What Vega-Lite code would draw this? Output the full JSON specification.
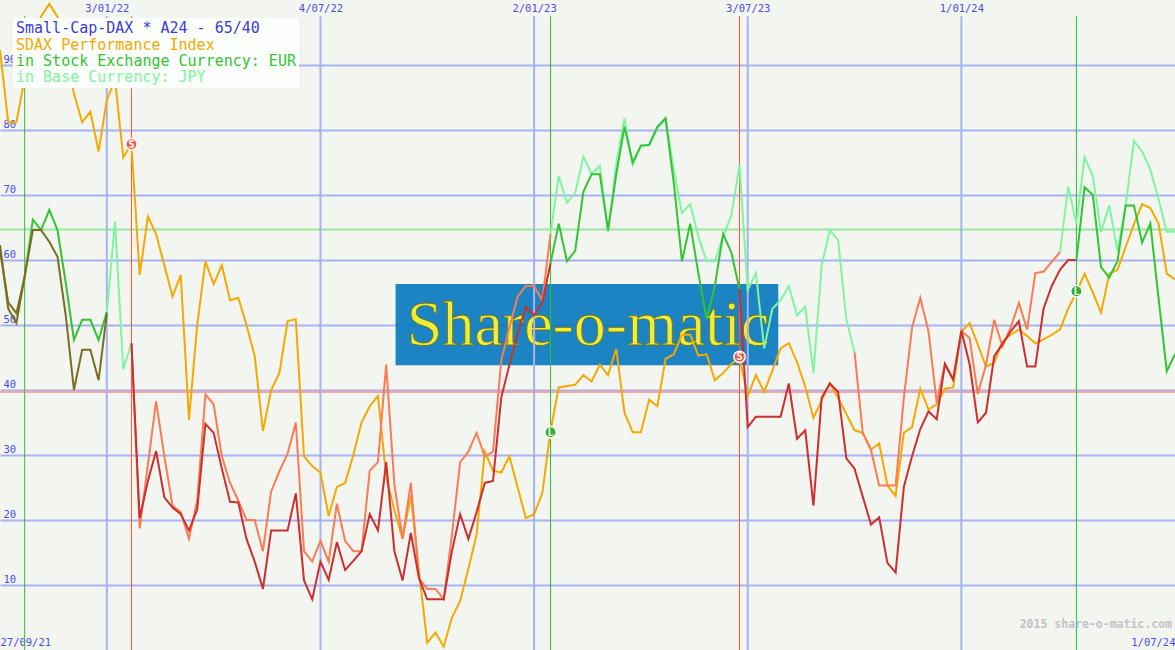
{
  "$schema": "https://vega.github.io/schema/vega-lite/v6.json",
  "width": 1175,
  "height": 650,
  "padding": 0,
  "autosize": {"type": "none"},
  "background": "#f3f5f1",
  "config": {"view": {"stroke": null}, "font": "DejaVu Sans Mono"},
  "datasets": {
    "watermark": [{"start": "2022-09-06", "end": "2023-07-29", "top": 56.3, "bottom": 43.8, "mid": "2023-02-17", "baseline": 46.9, "text": "Share-o-matic"}],
    "thresholds": [{"level": 64.7, "kind": "buy level 65"}, {"level": 39.7, "kind": "sell level 40"}],
    "quarters": [{"date": "2022-01-03"}, {"date": "2022-07-04"}, {"date": "2023-01-02"}, {"date": "2023-07-03"}, {"date": "2024-01-01"}],
    "signal_lines": [{"date": "2021-10-25", "signal": "buy"}, {"date": "2022-01-24", "signal": "sell"}, {"date": "2023-01-16", "signal": "buy"}, {"date": "2023-06-26", "signal": "sell"}, {"date": "2024-04-08", "signal": "buy"}],
    "signal_points": [{"date": "2022-01-24", "value": 77.8, "signal": "sell", "label": "S"}, {"date": "2023-01-16", "value": 33.5, "signal": "buy", "label": "L"}, {"date": "2023-06-26", "value": 45.1, "signal": "sell", "label": "S"}, {"date": "2024-04-08", "value": 55.2, "signal": "buy", "label": "L"}],
    "credit": [{"date": "2024-07-01", "value": 3.85, "text": "2015 share-o-matic.com"}],
    "legend": [{"label": "SDAX Performance Index"}, {"label": "in Stock Exchange Currency: EUR"}, {"label": "in Base Currency: JPY"}],
    "sdax": [
      {"date":"2021-10-04","value":92.3},{"date":"2021-10-11","value":81.2},{"date":"2021-10-18","value":81.2},{"date":"2021-10-25","value":87.9},{"date":"2021-11-01","value":93.5},{"date":"2021-11-08","value":97.5},{"date":"2021-11-15","value":99.4},{"date":"2021-11-22","value":97.4},{"date":"2021-11-29","value":91.5},{"date":"2021-12-06","value":85.6},{"date":"2021-12-13","value":81.2},{"date":"2021-12-20","value":82.8},{"date":"2021-12-27","value":76.7},
      {"date":"2022-01-03","value":84.6},{"date":"2022-01-10","value":87.7},{"date":"2022-01-17","value":75.8},{"date":"2022-01-24","value":77.8},{"date":"2022-01-31","value":57.7},{"date":"2022-02-07","value":66.7},{"date":"2022-02-14","value":64},{"date":"2022-02-21","value":59.2},{"date":"2022-02-28","value":54.4},{"date":"2022-03-07","value":57.7},{"date":"2022-03-14","value":35.4},{"date":"2022-03-21","value":50},{"date":"2022-03-28","value":59.8},
      {"date":"2022-04-04","value":56.3},{"date":"2022-04-11","value":59.2},{"date":"2022-04-18","value":53.8},{"date":"2022-04-25","value":54.2},{"date":"2022-05-02","value":50},{"date":"2022-05-09","value":45.2},{"date":"2022-05-16","value":33.7},{"date":"2022-05-23","value":40},{"date":"2022-05-30","value":42.6},{"date":"2022-06-06","value":50.6},{"date":"2022-06-13","value":50.9},{"date":"2022-06-20","value":29.8},{"date":"2022-06-27","value":28.3},
      {"date":"2022-07-04","value":27.3},{"date":"2022-07-11","value":20.6},{"date":"2022-07-18","value":25.1},{"date":"2022-07-25","value":25.7},{"date":"2022-08-01","value":30},{"date":"2022-08-08","value":35},{"date":"2022-08-15","value":37.5},{"date":"2022-08-22","value":39.1},{"date":"2022-08-29","value":26.7},{"date":"2022-09-05","value":21.5},{"date":"2022-09-12","value":17.1},{"date":"2022-09-19","value":23.8},{"date":"2022-09-26","value":12},
      {"date":"2022-10-03","value":1.1},{"date":"2022-10-10","value":2.7},{"date":"2022-10-17","value":0.5},{"date":"2022-10-24","value":5},{"date":"2022-10-31","value":7.5},{"date":"2022-11-07","value":12.5},{"date":"2022-11-14","value":17.7},{"date":"2022-11-21","value":30.5},{"date":"2022-11-28","value":27.6},{"date":"2022-12-05","value":27.3},{"date":"2022-12-12","value":29.8},{"date":"2022-12-19","value":25},{"date":"2022-12-26","value":20.3},
      {"date":"2023-01-02","value":20.9},{"date":"2023-01-09","value":24.1},{"date":"2023-01-16","value":33.7},{"date":"2023-01-23","value":40.4},{"date":"2023-01-30","value":40.6},{"date":"2023-02-06","value":40.8},{"date":"2023-02-13","value":42.3},{"date":"2023-02-20","value":41.3},{"date":"2023-02-27","value":43.9},{"date":"2023-03-06","value":42.3},{"date":"2023-03-13","value":46.3},{"date":"2023-03-20","value":36.5},{"date":"2023-03-27","value":33.5},
      {"date":"2023-04-03","value":33.5},{"date":"2023-04-10","value":38.5},{"date":"2023-04-17","value":37.5},{"date":"2023-04-24","value":44.8},{"date":"2023-05-01","value":45.5},{"date":"2023-05-08","value":48.5},{"date":"2023-05-15","value":48.5},{"date":"2023-05-22","value":45.3},{"date":"2023-05-29","value":45.5},{"date":"2023-06-05","value":41.5},{"date":"2023-06-12","value":42.6},{"date":"2023-06-19","value":44},{"date":"2023-06-26","value":45},
      {"date":"2023-07-03","value":39.1},{"date":"2023-07-10","value":42.3},{"date":"2023-07-17","value":39.7},{"date":"2023-07-24","value":43},{"date":"2023-07-31","value":46.4},{"date":"2023-08-07","value":47.2},{"date":"2023-08-14","value":44.3},{"date":"2023-08-21","value":40.5},{"date":"2023-08-28","value":35.7},{"date":"2023-09-04","value":38.4},{"date":"2023-09-11","value":41},{"date":"2023-09-18","value":38.8},{"date":"2023-09-25","value":36.3},
      {"date":"2023-10-02","value":33.8},{"date":"2023-10-09","value":33.4},{"date":"2023-10-16","value":30.8},{"date":"2023-10-23","value":31.8},{"date":"2023-10-30","value":25.3},{"date":"2023-11-06","value":23.7},{"date":"2023-11-13","value":33.4},{"date":"2023-11-20","value":34.3},{"date":"2023-11-27","value":40.2},{"date":"2023-12-04","value":37},{"date":"2023-12-11","value":37.8},{"date":"2023-12-18","value":40.2},{"date":"2023-12-25","value":40.4},
      {"date":"2024-01-01","value":49},{"date":"2024-01-08","value":50.3},{"date":"2024-01-15","value":47},{"date":"2024-01-22","value":43.6},{"date":"2024-01-29","value":44.2},{"date":"2024-02-05","value":47.4},{"date":"2024-02-12","value":48.5},{"date":"2024-02-19","value":49.3},{"date":"2024-02-26","value":48.3},{"date":"2024-03-04","value":47.2},{"date":"2024-03-11","value":47.8},{"date":"2024-03-18","value":48.5},{"date":"2024-03-25","value":49.3},
      {"date":"2024-04-01","value":52.5},{"date":"2024-04-08","value":55},{"date":"2024-04-15","value":57.9},{"date":"2024-04-22","value":55},{"date":"2024-04-29","value":51.9},{"date":"2024-05-06","value":57.9},{"date":"2024-05-13","value":58.5},{"date":"2024-05-20","value":62},{"date":"2024-05-27","value":65.5},{"date":"2024-06-03","value":68.6},{"date":"2024-06-10","value":68},{"date":"2024-06-17","value":65.6},{"date":"2024-06-24","value":57.9},{"date":"2024-07-01","value":57}
    ],
    "eur": [
      {"date":"2021-10-04","value":62.3,"segment":1,"status":"pre"},{"date":"2021-10-11","value":52.5,"segment":1,"status":"pre"},{"date":"2021-10-18","value":50.3,"segment":1,"status":"pre"},{"date":"2021-10-25","value":57.5,"segment":1,"status":"pre"},{"date":"2021-11-01","value":64.6,"segment":1,"status":"pre"},{"date":"2021-11-08","value":64.6,"segment":1,"status":"pre"},{"date":"2021-11-15","value":62.8,"segment":1,"status":"pre"},{"date":"2021-11-22","value":60.5,"segment":1,"status":"pre"},{"date":"2021-11-29","value":51.5,"segment":1,"status":"pre"},{"date":"2021-12-06","value":40,"segment":1,"status":"pre"},{"date":"2021-12-13","value":46.2,"segment":1,"status":"pre"},{"date":"2021-12-20","value":46.2,"segment":1,"status":"pre"},{"date":"2021-12-27","value":41.5,"segment":1,"status":"pre"},{"date":"2022-01-03","value":51.8,"segment":1,"status":"pre"},
      {"date":"2022-01-24","value":47.2,"segment":2,"status":"sell"},{"date":"2022-01-31","value":20.3,"segment":2,"status":"sell"},{"date":"2022-02-07","value":26,"segment":2,"status":"sell"},{"date":"2022-02-14","value":30.6,"segment":2,"status":"sell"},{"date":"2022-02-21","value":23.5,"segment":2,"status":"sell"},{"date":"2022-02-28","value":21.9,"segment":2,"status":"sell"},{"date":"2022-03-07","value":20.9,"segment":2,"status":"sell"},{"date":"2022-03-14","value":18.4,"segment":2,"status":"sell"},{"date":"2022-03-21","value":21.6,"segment":2,"status":"sell"},{"date":"2022-03-28","value":34.8,"segment":2,"status":"sell"},
      {"date":"2022-04-04","value":33.4,"segment":2,"status":"sell"},{"date":"2022-04-11","value":27.9,"segment":2,"status":"sell"},{"date":"2022-04-18","value":22.8,"segment":2,"status":"sell"},{"date":"2022-04-25","value":22.7,"segment":2,"status":"sell"},{"date":"2022-05-02","value":17.1,"segment":2,"status":"sell"},{"date":"2022-05-09","value":13.6,"segment":2,"status":"sell"},{"date":"2022-05-16","value":9.4,"segment":2,"status":"sell"},{"date":"2022-05-23","value":18.4,"segment":2,"status":"sell"},{"date":"2022-05-30","value":18.4,"segment":2,"status":"sell"},{"date":"2022-06-06","value":18.4,"segment":2,"status":"sell"},{"date":"2022-06-13","value":24.1,"segment":2,"status":"sell"},{"date":"2022-06-20","value":10.7,"segment":2,"status":"sell"},{"date":"2022-06-27","value":7.8,"segment":2,"status":"sell"},
      {"date":"2022-07-04","value":13.6,"segment":2,"status":"sell"},{"date":"2022-07-11","value":10.8,"segment":2,"status":"sell"},{"date":"2022-07-18","value":16.6,"segment":2,"status":"sell"},{"date":"2022-07-25","value":12.3,"segment":2,"status":"sell"},{"date":"2022-08-01","value":13.7,"segment":2,"status":"sell"},{"date":"2022-08-08","value":15.2,"segment":2,"status":"sell"},{"date":"2022-08-15","value":20.9,"segment":2,"status":"sell"},{"date":"2022-08-22","value":18.4,"segment":2,"status":"sell"},{"date":"2022-08-29","value":28.9,"segment":2,"status":"sell"},{"date":"2022-09-05","value":15.2,"segment":2,"status":"sell"},{"date":"2022-09-12","value":10.7,"segment":2,"status":"sell"},{"date":"2022-09-19","value":18,"segment":2,"status":"sell"},{"date":"2022-09-26","value":11,"segment":2,"status":"sell"},
      {"date":"2022-10-03","value":7.8,"segment":2,"status":"sell"},{"date":"2022-10-10","value":7.8,"segment":2,"status":"sell"},{"date":"2022-10-17","value":7.8,"segment":2,"status":"sell"},{"date":"2022-10-24","value":15.2,"segment":2,"status":"sell"},{"date":"2022-10-31","value":20.9,"segment":2,"status":"sell"},{"date":"2022-11-07","value":17.1,"segment":2,"status":"sell"},{"date":"2022-11-14","value":21.2,"segment":2,"status":"sell"},{"date":"2022-11-21","value":25.7,"segment":2,"status":"sell"},{"date":"2022-11-28","value":26,"segment":2,"status":"sell"},{"date":"2022-12-05","value":38.8,"segment":2,"status":"sell"},{"date":"2022-12-12","value":43.9,"segment":2,"status":"sell"},{"date":"2022-12-19","value":48.7,"segment":2,"status":"sell"},{"date":"2022-12-26","value":52.8,"segment":2,"status":"sell"},
      {"date":"2023-01-02","value":51.5,"segment":2,"status":"sell"},{"date":"2023-01-09","value":53.4,"segment":2,"status":"sell"},{"date":"2023-01-16","value":59.5,"segment":2,"status":"sell"},
      {"date":"2023-01-16","value":59.5,"segment":3,"status":"buy"},{"date":"2023-01-23","value":65.6,"segment":3,"status":"buy"},{"date":"2023-01-30","value":59.8,"segment":3,"status":"buy"},{"date":"2023-02-06","value":61.4,"segment":3,"status":"buy"},{"date":"2023-02-13","value":70.5,"segment":3,"status":"buy"},{"date":"2023-02-20","value":73.2,"segment":3,"status":"buy"},{"date":"2023-02-27","value":73.2,"segment":3,"status":"buy"},{"date":"2023-03-06","value":64.6,"segment":3,"status":"buy"},{"date":"2023-03-13","value":73.2,"segment":3,"status":"buy"},{"date":"2023-03-20","value":80.5,"segment":3,"status":"buy"},{"date":"2023-03-27","value":75,"segment":3,"status":"buy"},
      {"date":"2023-04-03","value":77.6,"segment":3,"status":"buy"},{"date":"2023-04-10","value":77.7,"segment":3,"status":"buy"},{"date":"2023-04-17","value":80.5,"segment":3,"status":"buy"},{"date":"2023-04-24","value":81.8,"segment":3,"status":"buy"},{"date":"2023-05-01","value":71.9,"segment":3,"status":"buy"},{"date":"2023-05-08","value":59.8,"segment":3,"status":"buy"},{"date":"2023-05-15","value":65.6,"segment":3,"status":"buy"},{"date":"2023-05-22","value":57.9,"segment":3,"status":"buy"},{"date":"2023-05-29","value":50.9,"segment":3,"status":"buy"},{"date":"2023-06-05","value":56,"segment":3,"status":"buy"},{"date":"2023-06-12","value":64,"segment":3,"status":"buy"},{"date":"2023-06-19","value":61.2,"segment":3,"status":"buy"},{"date":"2023-06-26","value":55.5,"segment":3,"status":"buy"},
      {"date":"2023-06-26","value":55.5,"segment":4,"status":"sell"},{"date":"2023-07-03","value":34.3,"segment":4,"status":"sell"},{"date":"2023-07-10","value":35.9,"segment":4,"status":"sell"},{"date":"2023-07-17","value":35.9,"segment":4,"status":"sell"},{"date":"2023-07-24","value":35.9,"segment":4,"status":"sell"},{"date":"2023-07-31","value":35.9,"segment":4,"status":"sell"},{"date":"2023-08-07","value":41,"segment":4,"status":"sell"},{"date":"2023-08-14","value":32.5,"segment":4,"status":"sell"},{"date":"2023-08-21","value":33.8,"segment":4,"status":"sell"},{"date":"2023-08-28","value":22.2,"segment":4,"status":"sell"},{"date":"2023-09-04","value":38.8,"segment":4,"status":"sell"},{"date":"2023-09-11","value":41,"segment":4,"status":"sell"},{"date":"2023-09-18","value":39.7,"segment":4,"status":"sell"},{"date":"2023-09-25","value":29.5,"segment":4,"status":"sell"},
      {"date":"2023-10-02","value":27.9,"segment":4,"status":"sell"},{"date":"2023-10-09","value":23.6,"segment":4,"status":"sell"},{"date":"2023-10-16","value":19.3,"segment":4,"status":"sell"},{"date":"2023-10-23","value":20.4,"segment":4,"status":"sell"},{"date":"2023-10-30","value":13.4,"segment":4,"status":"sell"},{"date":"2023-11-06","value":11.9,"segment":4,"status":"sell"},{"date":"2023-11-13","value":25.1,"segment":4,"status":"sell"},{"date":"2023-11-20","value":29.8,"segment":4,"status":"sell"},{"date":"2023-11-27","value":34,"segment":4,"status":"sell"},{"date":"2023-12-04","value":36.7,"segment":4,"status":"sell"},{"date":"2023-12-11","value":35.5,"segment":4,"status":"sell"},{"date":"2023-12-18","value":44,"segment":4,"status":"sell"},{"date":"2023-12-25","value":41.6,"segment":4,"status":"sell"},
      {"date":"2024-01-01","value":49.1,"segment":4,"status":"sell"},{"date":"2024-01-08","value":44,"segment":4,"status":"sell"},{"date":"2024-01-15","value":35,"segment":4,"status":"sell"},{"date":"2024-01-22","value":36.5,"segment":4,"status":"sell"},{"date":"2024-01-29","value":45.2,"segment":4,"status":"sell"},{"date":"2024-02-05","value":47.1,"segment":4,"status":"sell"},{"date":"2024-02-12","value":49,"segment":4,"status":"sell"},{"date":"2024-02-19","value":50.6,"segment":4,"status":"sell"},{"date":"2024-02-26","value":43.6,"segment":4,"status":"sell"},{"date":"2024-03-04","value":43.6,"segment":4,"status":"sell"},{"date":"2024-03-11","value":52.5,"segment":4,"status":"sell"},{"date":"2024-03-18","value":56,"segment":4,"status":"sell"},{"date":"2024-03-25","value":58.5,"segment":4,"status":"sell"},{"date":"2024-04-01","value":60,"segment":4,"status":"sell"},{"date":"2024-04-08","value":60,"segment":4,"status":"sell"},
      {"date":"2024-04-08","value":60,"segment":5,"status":"buy"},{"date":"2024-04-15","value":71.2,"segment":5,"status":"buy"},{"date":"2024-04-22","value":70,"segment":5,"status":"buy"},{"date":"2024-04-29","value":58.9,"segment":5,"status":"buy"},{"date":"2024-05-06","value":57.3,"segment":5,"status":"buy"},{"date":"2024-05-13","value":59.8,"segment":5,"status":"buy"},{"date":"2024-05-20","value":68.4,"segment":5,"status":"buy"},{"date":"2024-05-27","value":68.4,"segment":5,"status":"buy"},{"date":"2024-06-03","value":62.7,"segment":5,"status":"buy"},{"date":"2024-06-10","value":65.6,"segment":5,"status":"buy"},{"date":"2024-06-17","value":54.1,"segment":5,"status":"buy"},{"date":"2024-06-24","value":42.9,"segment":5,"status":"buy"},{"date":"2024-07-01","value":45.5,"segment":5,"status":"buy"}
    ],
    "jpy": [
      {"date":"2021-10-04","value":61.5,"segment":1,"status":"pre"},{"date":"2021-10-11","value":53.5,"segment":1,"status":"pre"},{"date":"2021-10-18","value":51.8,"segment":1,"status":"pre"},{"date":"2021-10-25","value":57.4,"segment":1,"status":"pre"},
      {"date":"2021-10-25","value":57.4,"segment":2,"status":"early"},{"date":"2021-11-01","value":66.2,"segment":2,"status":"early"},{"date":"2021-11-08","value":64.6,"segment":2,"status":"early"},{"date":"2021-11-15","value":67.7,"segment":2,"status":"early"},{"date":"2021-11-22","value":64.6,"segment":2,"status":"early"},{"date":"2021-11-29","value":56.5,"segment":2,"status":"early"},{"date":"2021-12-06","value":47.7,"segment":2,"status":"early"},{"date":"2021-12-13","value":50.8,"segment":2,"status":"early"},{"date":"2021-12-20","value":50.8,"segment":2,"status":"early"},{"date":"2021-12-27","value":47.7,"segment":2,"status":"early"},{"date":"2022-01-03","value":52,"segment":2,"status":"early"},
      {"date":"2022-01-03","value":52,"segment":3,"status":"buy"},{"date":"2022-01-10","value":65.9,"segment":3,"status":"buy"},{"date":"2022-01-17","value":43.2,"segment":3,"status":"buy"},{"date":"2022-01-24","value":47.2,"segment":3,"status":"buy"},
      {"date":"2022-01-24","value":47.2,"segment":4,"status":"sell"},{"date":"2022-01-31","value":18.7,"segment":4,"status":"sell"},{"date":"2022-02-07","value":28.5,"segment":4,"status":"sell"},{"date":"2022-02-14","value":38.3,"segment":4,"status":"sell"},{"date":"2022-02-21","value":29.8,"segment":4,"status":"sell"},{"date":"2022-02-28","value":22.2,"segment":4,"status":"sell"},{"date":"2022-03-07","value":21.2,"segment":4,"status":"sell"},{"date":"2022-03-14","value":17.1,"segment":4,"status":"sell"},{"date":"2022-03-21","value":23,"segment":4,"status":"sell"},{"date":"2022-03-28","value":39.3,"segment":4,"status":"sell"},
      {"date":"2022-04-04","value":37.8,"segment":4,"status":"sell"},{"date":"2022-04-11","value":29.8,"segment":4,"status":"sell"},{"date":"2022-04-18","value":25.7,"segment":4,"status":"sell"},{"date":"2022-04-25","value":23,"segment":4,"status":"sell"},{"date":"2022-05-02","value":20,"segment":4,"status":"sell"},{"date":"2022-05-09","value":20,"segment":4,"status":"sell"},{"date":"2022-05-16","value":15.2,"segment":4,"status":"sell"},{"date":"2022-05-23","value":24.4,"segment":4,"status":"sell"},{"date":"2022-05-30","value":27.5,"segment":4,"status":"sell"},{"date":"2022-06-06","value":30.2,"segment":4,"status":"sell"},{"date":"2022-06-13","value":35,"segment":4,"status":"sell"},{"date":"2022-06-20","value":15.2,"segment":4,"status":"sell"},{"date":"2022-06-27","value":13.6,"segment":4,"status":"sell"},
      {"date":"2022-07-04","value":16.8,"segment":4,"status":"sell"},{"date":"2022-07-11","value":13.6,"segment":4,"status":"sell"},{"date":"2022-07-18","value":22.5,"segment":4,"status":"sell"},{"date":"2022-07-25","value":16.8,"segment":4,"status":"sell"},{"date":"2022-08-01","value":15.2,"segment":4,"status":"sell"},{"date":"2022-08-08","value":15.2,"segment":4,"status":"sell"},{"date":"2022-08-15","value":27.6,"segment":4,"status":"sell"},{"date":"2022-08-22","value":28.9,"segment":4,"status":"sell"},{"date":"2022-08-29","value":43.9,"segment":4,"status":"sell"},{"date":"2022-09-05","value":25.4,"segment":4,"status":"sell"},{"date":"2022-09-12","value":17.1,"segment":4,"status":"sell"},{"date":"2022-09-19","value":25.7,"segment":4,"status":"sell"},{"date":"2022-09-26","value":11,"segment":4,"status":"sell"},
      {"date":"2022-10-03","value":9.4,"segment":4,"status":"sell"},{"date":"2022-10-10","value":9.4,"segment":4,"status":"sell"},{"date":"2022-10-17","value":7.8,"segment":4,"status":"sell"},{"date":"2022-10-24","value":17.7,"segment":4,"status":"sell"},{"date":"2022-10-31","value":28.9,"segment":4,"status":"sell"},{"date":"2022-11-07","value":30.5,"segment":4,"status":"sell"},{"date":"2022-11-14","value":33.4,"segment":4,"status":"sell"},{"date":"2022-11-21","value":29.8,"segment":4,"status":"sell"},{"date":"2022-11-28","value":30.5,"segment":4,"status":"sell"},{"date":"2022-12-05","value":44.5,"segment":4,"status":"sell"},{"date":"2022-12-12","value":49.6,"segment":4,"status":"sell"},{"date":"2022-12-19","value":54.4,"segment":4,"status":"sell"},{"date":"2022-12-26","value":56,"segment":4,"status":"sell"},
      {"date":"2023-01-02","value":56,"segment":4,"status":"sell"},{"date":"2023-01-09","value":53.8,"segment":4,"status":"sell"},{"date":"2023-01-16","value":64,"segment":4,"status":"sell"},
      {"date":"2023-01-16","value":64,"segment":5,"status":"buy"},{"date":"2023-01-23","value":72.9,"segment":5,"status":"buy"},{"date":"2023-01-30","value":68.8,"segment":5,"status":"buy"},{"date":"2023-02-06","value":70.3,"segment":5,"status":"buy"},{"date":"2023-02-13","value":75.9,"segment":5,"status":"buy"},{"date":"2023-02-20","value":73.2,"segment":5,"status":"buy"},{"date":"2023-02-27","value":74.5,"segment":5,"status":"buy"},{"date":"2023-03-06","value":64.3,"segment":5,"status":"buy"},{"date":"2023-03-13","value":74.8,"segment":5,"status":"buy"},{"date":"2023-03-20","value":81.8,"segment":5,"status":"buy"},{"date":"2023-03-27","value":74.6,"segment":5,"status":"buy"},
      {"date":"2023-04-03","value":77.6,"segment":5,"status":"buy"},{"date":"2023-04-10","value":77.7,"segment":5,"status":"buy"},{"date":"2023-04-17","value":80.2,"segment":5,"status":"buy"},{"date":"2023-04-24","value":81.8,"segment":5,"status":"buy"},{"date":"2023-05-01","value":73.9,"segment":5,"status":"buy"},{"date":"2023-05-08","value":67.2,"segment":5,"status":"buy"},{"date":"2023-05-15","value":68.6,"segment":5,"status":"buy"},{"date":"2023-05-22","value":63.6,"segment":5,"status":"buy"},{"date":"2023-05-29","value":59.8,"segment":5,"status":"buy"},{"date":"2023-06-05","value":59.8,"segment":5,"status":"buy"},{"date":"2023-06-12","value":63.6,"segment":5,"status":"buy"},{"date":"2023-06-19","value":66.8,"segment":5,"status":"buy"},{"date":"2023-06-26","value":74.6,"segment":5,"status":"buy"},
      {"date":"2023-07-03","value":55.4,"segment":5,"status":"buy"},{"date":"2023-07-10","value":58,"segment":5,"status":"buy"},{"date":"2023-07-17","value":46.4,"segment":5,"status":"buy"},{"date":"2023-07-24","value":52.5,"segment":5,"status":"buy"},{"date":"2023-07-31","value":53.8,"segment":5,"status":"buy"},{"date":"2023-08-07","value":56,"segment":5,"status":"buy"},{"date":"2023-08-14","value":51.5,"segment":5,"status":"buy"},{"date":"2023-08-21","value":52.8,"segment":5,"status":"buy"},{"date":"2023-08-28","value":42.6,"segment":5,"status":"buy"},{"date":"2023-09-04","value":59.2,"segment":5,"status":"buy"},{"date":"2023-09-11","value":64.6,"segment":5,"status":"buy"},{"date":"2023-09-18","value":63.1,"segment":5,"status":"buy"},{"date":"2023-09-25","value":50.9,"segment":5,"status":"buy"},{"date":"2023-10-02","value":45.8,"segment":5,"status":"buy"},
      {"date":"2023-10-02","value":45.8,"segment":6,"status":"sell"},{"date":"2023-10-09","value":33.4,"segment":6,"status":"sell"},{"date":"2023-10-16","value":30.8,"segment":6,"status":"sell"},{"date":"2023-10-23","value":25.3,"segment":6,"status":"sell"},{"date":"2023-10-30","value":25.3,"segment":6,"status":"sell"},{"date":"2023-11-06","value":25.3,"segment":6,"status":"sell"},{"date":"2023-11-13","value":38.8,"segment":6,"status":"sell"},{"date":"2023-11-20","value":49.6,"segment":6,"status":"sell"},{"date":"2023-11-27","value":54.2,"segment":6,"status":"sell"},{"date":"2023-12-04","value":49,"segment":6,"status":"sell"},{"date":"2023-12-11","value":38.1,"segment":6,"status":"sell"},{"date":"2023-12-18","value":44,"segment":6,"status":"sell"},{"date":"2023-12-25","value":41.6,"segment":6,"status":"sell"},
      {"date":"2024-01-01","value":49.1,"segment":6,"status":"sell"},{"date":"2024-01-08","value":48,"segment":6,"status":"sell"},{"date":"2024-01-15","value":39.4,"segment":6,"status":"sell"},{"date":"2024-01-22","value":43.9,"segment":6,"status":"sell"},{"date":"2024-01-29","value":50.8,"segment":6,"status":"sell"},{"date":"2024-02-05","value":46.7,"segment":6,"status":"sell"},{"date":"2024-02-12","value":49.6,"segment":6,"status":"sell"},{"date":"2024-02-19","value":53.4,"segment":6,"status":"sell"},{"date":"2024-02-26","value":49.3,"segment":6,"status":"sell"},{"date":"2024-03-04","value":58,"segment":6,"status":"sell"},{"date":"2024-03-11","value":58.2,"segment":6,"status":"sell"},{"date":"2024-03-18","value":59.7,"segment":6,"status":"sell"},{"date":"2024-03-25","value":61.2,"segment":6,"status":"sell"},
      {"date":"2024-03-25","value":61.2,"segment":7,"status":"buy"},{"date":"2024-04-01","value":71.3,"segment":7,"status":"buy"},{"date":"2024-04-08","value":65.6,"segment":7,"status":"buy"},{"date":"2024-04-15","value":75.8,"segment":7,"status":"buy"},{"date":"2024-04-22","value":72.9,"segment":7,"status":"buy"},{"date":"2024-04-29","value":64.3,"segment":7,"status":"buy"},{"date":"2024-05-06","value":68.4,"segment":7,"status":"buy"},{"date":"2024-05-13","value":61.4,"segment":7,"status":"buy"},{"date":"2024-05-20","value":68.4,"segment":7,"status":"buy"},{"date":"2024-05-27","value":78.3,"segment":7,"status":"buy"},{"date":"2024-06-03","value":76.7,"segment":7,"status":"buy"},{"date":"2024-06-10","value":73.9,"segment":7,"status":"buy"},{"date":"2024-06-17","value":69.4,"segment":7,"status":"buy"},{"date":"2024-06-24","value":64.3,"segment":7,"status":"buy"},{"date":"2024-07-01","value":64.4,"segment":7,"status":"buy"}
    ]
  },
  "resolve": {"scale": {"color": "independent"}, "axis": {"x": "independent", "y": "independent"}},
  "layer": [
    {
      "data": {"name": "watermark"},
      "mark": {"type": "rect", "fill": "#0b7bbe", "opacity": 0.93},
      "encoding": {
        "x": {"field": "start", "type": "temporal", "scale": {"type": "utc", "domain": [{"year": 2021, "month": 10, "date": 4, "utc": true}, {"year": 2024, "month": 7, "date": 1, "utc": true}]}, "axis": null},
        "x2": {"field": "end"},
        "y": {"field": "top", "type": "quantitative", "scale": {"domain": [0, 100], "nice": false, "zero": false},
          "axis": {"orient": "left", "values": [10, 20, 30, 40, 50, 60, 70, 80, 90], "title": null, "grid": true, "gridColor": "#a5b3f1", "gridWidth": 2, "gridOpacity": 1, "domain": false, "ticks": false, "tickSize": 0, "labelAlign": "left", "labelBaseline": "bottom", "labelPadding": -3, "labelOffset": -1, "labelFont": "DejaVu Sans Mono", "labelFontSize": 10.5, "labelColor": "#4b4be6"}},
        "y2": {"field": "bottom"}
      }
    },
    {
      "data": {"name": "watermark"},
      "mark": {"type": "text", "font": "Liberation Serif", "fontSize": 64, "fill": "#efec3a", "stroke": "#6d7418", "strokeWidth": 0.8, "align": "center", "baseline": "alphabetic"},
      "encoding": {
        "x": {"field": "mid", "type": "temporal", "scale": {"type": "utc", "domain": [{"year": 2021, "month": 10, "date": 4, "utc": true}, {"year": 2024, "month": 7, "date": 1, "utc": true}]}, "axis": null},
        "y": {"field": "baseline", "type": "quantitative", "scale": {"domain": [0, 100], "nice": false, "zero": false}, "axis": null},
        "text": {"field": "text"}
      }
    },
    {
      "data": {"name": "thresholds"},
      "mark": {"type": "rule", "strokeWidth": 2},
      "encoding": {
        "y": {"field": "level", "type": "quantitative", "scale": {"domain": [0, 100], "nice": false, "zero": false}, "axis": null},
        "color": {"field": "kind", "type": "nominal", "scale": {"domain": ["buy level 65", "sell level 40"], "range": ["#9ce69c", "#f2a6a6"]}, "legend": null}
      }
    },
    {
      "data": {"name": "quarters"},
      "mark": {"type": "rule", "color": "#a5b3f1", "strokeWidth": 2},
      "encoding": {
        "x": {"field": "date", "type": "temporal", "scale": {"type": "utc", "domain": [{"year": 2021, "month": 10, "date": 4, "utc": true}, {"year": 2024, "month": 7, "date": 1, "utc": true}]},
          "axis": {"orient": "top", "title": null, "values": [{"year": 2022, "month": 1, "date": 3, "utc": true}, {"year": 2022, "month": 7, "date": 4, "utc": true}, {"year": 2023, "month": 1, "date": 2, "utc": true}, {"year": 2023, "month": 7, "date": 3, "utc": true}, {"year": 2024, "month": 1, "date": 1, "utc": true}], "labelExpr": "utcFormat(datum.value, '%-d/%m/%y')", "grid": false, "domain": false, "ticks": false, "tickSize": 0, "labelPadding": -13, "labelBaseline": "bottom", "labelFont": "DejaVu Sans Mono", "labelFontSize": 10.5, "labelColor": "#4b4be6", "labelOverlap": false}},
        "y": {"datum": 97.5, "type": "quantitative", "scale": {"domain": [0, 100], "nice": false, "zero": false}, "axis": null},
        "y2": {"datum": 0}
      }
    },
    {
      "data": {"name": "signal_lines"},
      "mark": {"type": "rule", "strokeWidth": 1},
      "encoding": {
        "x": {"field": "date", "type": "temporal", "scale": {"type": "utc", "domain": [{"year": 2021, "month": 10, "date": 4, "utc": true}, {"year": 2024, "month": 7, "date": 1, "utc": true}]}, "axis": null},
        "y": {"datum": 97.5, "type": "quantitative", "scale": {"domain": [0, 100], "nice": false, "zero": false}, "axis": null},
        "y2": {"datum": 0},
        "color": {"field": "signal", "type": "nominal", "scale": {"domain": ["buy", "sell"], "range": ["#30c030", "#ff5a36"]}, "legend": null}
      }
    },
    {
      "data": {"name": "sdax"},
      "mark": {"type": "line", "color": "#f4a900", "strokeWidth": 2},
      "encoding": {
        "x": {"field": "date", "type": "temporal", "scale": {"type": "utc", "domain": [{"year": 2021, "month": 10, "date": 4, "utc": true}, {"year": 2024, "month": 7, "date": 1, "utc": true}]}, "axis": null},
        "y": {"field": "value", "type": "quantitative", "scale": {"domain": [0, 100], "nice": false, "zero": false}, "axis": null}
      }
    },
    {
      "data": {"name": "jpy"},
      "mark": {"type": "line", "strokeWidth": 2},
      "encoding": {
        "x": {"field": "date", "type": "temporal", "scale": {"type": "utc", "domain": [{"year": 2021, "month": 10, "date": 4, "utc": true}, {"year": 2024, "month": 7, "date": 1, "utc": true}]}, "axis": null},
        "y": {"field": "value", "type": "quantitative", "scale": {"domain": [0, 100], "nice": false, "zero": false}, "axis": null},
        "color": {"field": "status", "type": "nominal", "scale": {"domain": ["pre", "early", "buy", "sell"], "range": ["#7a6e1e", "#33c433", "#80f4a0", "#fb7b52"]}, "legend": null},
        "detail": {"field": "segment", "type": "nominal"}
      }
    },
    {
      "data": {"name": "eur"},
      "mark": {"type": "line", "strokeWidth": 2},
      "encoding": {
        "x": {"field": "date", "type": "temporal", "scale": {"type": "utc", "domain": [{"year": 2021, "month": 10, "date": 4, "utc": true}, {"year": 2024, "month": 7, "date": 1, "utc": true}]}, "axis": null},
        "y": {"field": "value", "type": "quantitative", "scale": {"domain": [0, 100], "nice": false, "zero": false}, "axis": null},
        "color": {"field": "status", "type": "nominal", "scale": {"domain": ["pre", "buy", "sell"], "range": ["#7a6e1e", "#33c433", "#cd2e2e"]}, "legend": null},
        "detail": {"field": "segment", "type": "nominal"}
      }
    },
    {
      "data": {"name": "signal_points"},
      "mark": {"type": "point", "shape": "circle", "filled": true, "size": 130, "stroke": "#ffffff", "strokeWidth": 1.5, "opacity": 1},
      "encoding": {
        "x": {"field": "date", "type": "temporal", "scale": {"type": "utc", "domain": [{"year": 2021, "month": 10, "date": 4, "utc": true}, {"year": 2024, "month": 7, "date": 1, "utc": true}]}, "axis": null},
        "y": {"field": "value", "type": "quantitative", "scale": {"domain": [0, 100], "nice": false, "zero": false}, "axis": null},
        "fill": {"field": "signal", "type": "nominal", "scale": {"domain": ["buy", "sell"], "range": ["#2fb02f", "#f05a46"]}, "legend": null}
      }
    },
    {
      "data": {"name": "signal_points"},
      "mark": {"type": "text", "color": "#ffffff", "font": "DejaVu Sans Mono", "fontSize": 10, "fontWeight": "bold", "align": "center", "baseline": "middle", "dy": 0.5},
      "encoding": {
        "x": {"field": "date", "type": "temporal", "scale": {"type": "utc", "domain": [{"year": 2021, "month": 10, "date": 4, "utc": true}, {"year": 2024, "month": 7, "date": 1, "utc": true}]}, "axis": null},
        "y": {"field": "value", "type": "quantitative", "scale": {"domain": [0, 100], "nice": false, "zero": false}, "axis": null},
        "text": {"field": "label"}
      }
    },
    {
      "data": {"name": "credit"},
      "mark": {"type": "text", "color": "#c3c3c3", "font": "DejaVu Sans Mono", "fontSize": 11.5, "fontWeight": "bold", "align": "right", "baseline": "middle", "dx": -3},
      "encoding": {
        "x": {"field": "date", "type": "temporal", "scale": {"type": "utc", "domain": [{"year": 2021, "month": 10, "date": 4, "utc": true}, {"year": 2024, "month": 7, "date": 1, "utc": true}]},
          "axis": {"orient": "bottom", "title": null, "values": [{"year": 2021, "month": 10, "date": 4, "utc": true}, {"year": 2024, "month": 7, "date": 1, "utc": true}], "labelExpr": "datum.value < datetime(2022, 0, 1) ? '27/09/21' : utcFormat(datum.value, '%-d/%m/%y')", "labelFlush": true, "labelOverlap": false, "grid": false, "domain": false, "ticks": false, "tickSize": 0, "labelPadding": -13, "labelBaseline": "top", "labelFont": "DejaVu Sans Mono", "labelFontSize": 10.5, "labelColor": "#4b4be6"}},
        "y": {"field": "value", "type": "quantitative", "scale": {"domain": [0, 100], "nice": false, "zero": false}, "axis": null},
        "text": {"field": "text"}
      }
    },
    {
      "data": {"name": "legend"},
      "mark": {"type": "point", "opacity": 0, "size": 1},
      "encoding": {
        "color": {"field": "label", "type": "nominal",
          "scale": {"domain": ["SDAX Performance Index", "in Stock Exchange Currency: EUR", "in Base Currency: JPY"], "range": ["#f4a900", "#33c433", "#80f4a0"]},
          "legend": {"orient": "none", "legendX": 13, "legendY": 18, "title": "Small-Cap-DAX * A24 - 65/40", "titleFont": "DejaVu Sans Mono", "titleFontSize": 15, "titleFontWeight": "normal", "titleColor": "#3c3cdc", "titlePadding": 1, "titleLimit": 600, "labelFont": "DejaVu Sans Mono", "labelFontSize": 15, "labelLimit": 600, "labelOffset": -15, "symbolSize": 1, "symbolOpacity": 0, "symbolStrokeWidth": 0, "rowPadding": 0, "padding": 3, "fillColor": "#fbfefb",
            "labelColor": {"expr": "datum.value == 'SDAX Performance Index' ? '#f4a900' : datum.value == 'in Stock Exchange Currency: EUR' ? '#33c433' : '#80f4a0'"}}
        }
      }
    }
  ]
}
